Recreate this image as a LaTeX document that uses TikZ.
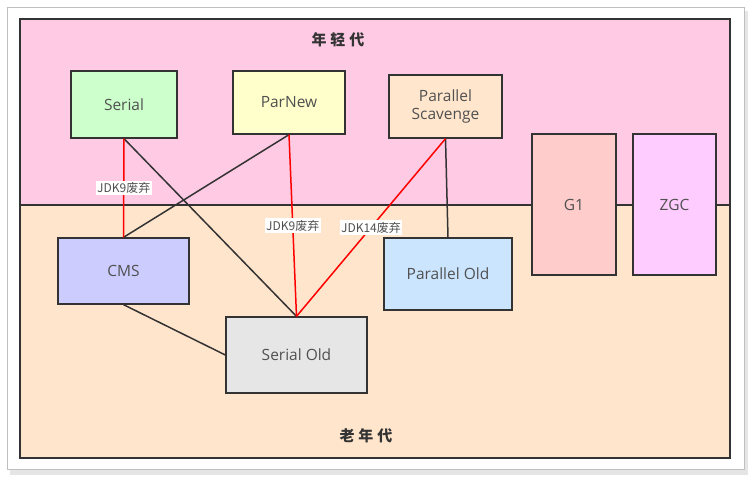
\documentclass[tikz,border=0pt]{standalone}
\usepackage{fontspec}
\setmainfont{Open Sans}
\newfontfamily\cjk{Noto Sans CJK SC}
\definecolor{younggen}{HTML}{FFCAE4}
\definecolor{oldgen}{HTML}{FFE5CC}
\definecolor{serialfill}{HTML}{CCFFCC}
\definecolor{parnewfill}{HTML}{FFFFCC}
\definecolor{scavfill}{HTML}{FFE6CC}
\definecolor{gonefill}{HTML}{FFCCCC}
\definecolor{zgcfill}{HTML}{FFCCFF}
\definecolor{cmsfill}{HTML}{CCCCFF}
\definecolor{soldfill}{HTML}{E6E6E6}
\definecolor{poldfill}{HTML}{CCE5FF}
\definecolor{inkgray}{HTML}{505050}
\tikzset{
  gc/.style={draw=black!80, line width=1.3pt, text=inkgray, align=center,
    inner sep=2pt, font=\fontsize{15.5}{18}\selectfont},
  gen/.style={text=black!80, font=\cjk\bfseries\fontsize{15}{18}\selectfont},
  lbl/.style={fill=white, text=inkgray, inner sep=1.5pt, font=\cjk\fontsize{12}{14}\selectfont},
  pair/.style={draw=black!80, line width=1.5pt},
  dropped/.style={draw=red, line width=1.5pt}
}
\begin{document}
\begin{tikzpicture}[x=1pt,y=-1pt]
  \useasboundingbox (0,0) rectangle (756,482);
  % frame and generations
  \fill[black!10] (10,11) rectangle (748,475);
  \draw[black!25, fill=white] (7,7) rectangle (744,469);
  \fill[younggen] (20,19) rectangle (730,205);
  \fill[oldgen] (20,205) rectangle (730,458);
  \draw[line width=1.3pt, black!80] (20,205) -- (730,205);
  \draw[line width=1.6pt, black!80] (20,19) rectangle (730,458);
  \node[gen] (young) at (338,40) {年\hspace{4pt}轻\hspace{4pt}代};
  \node[gen] (old) at (366,436) {老\hspace{4pt}年\hspace{4pt}代};
  % collectors
  \node[gc, fill=serialfill, minimum width=106pt, minimum height=67pt] (serial) at (124,104.5) {Serial};
  \node[gc, fill=parnewfill, minimum width=112pt, minimum height=63pt] (parnew) at (289,102.5) {ParNew};
  \node[gc, fill=scavfill, minimum width=113pt, minimum height=63pt] (scav) at (445.5,106.5) {Parallel\\Scavenge};
  \node[gc, fill=gonefill, minimum width=84pt, minimum height=141pt] (gone) at (574,204.5) {G1};
  \node[gc, fill=zgcfill, minimum width=83pt, minimum height=141pt] (zgc) at (674.5,204.5) {ZGC};
  \node[gc, fill=cmsfill, minimum width=131pt, minimum height=66pt] (cms) at (123.5,271) {CMS};
  \node[gc, fill=soldfill, minimum width=141pt, minimum height=76pt] (sold) at (296.5,355) {Serial Old};
  \node[gc, fill=poldfill, minimum width=128pt, minimum height=72pt] (pold) at (448,274) {Parallel Old};
  % combinations
  \path
  (serial.south) edge[pair] (sold.north)
  (parnew.south) edge[pair] (cms.north)
  (scav.south) edge[pair] (pold.north)
  (cms.south) edge[pair] (sold.west)
  (serial.south) edge[dropped] node [lbl] {JDK9废弃} (cms.north)
  (parnew.south) edge[dropped] node [lbl] {JDK9废弃} (sold.north)
  (scav.south) edge[dropped] node [lbl] {JDK14废弃} (sold.north);
\end{tikzpicture}
\end{document}
